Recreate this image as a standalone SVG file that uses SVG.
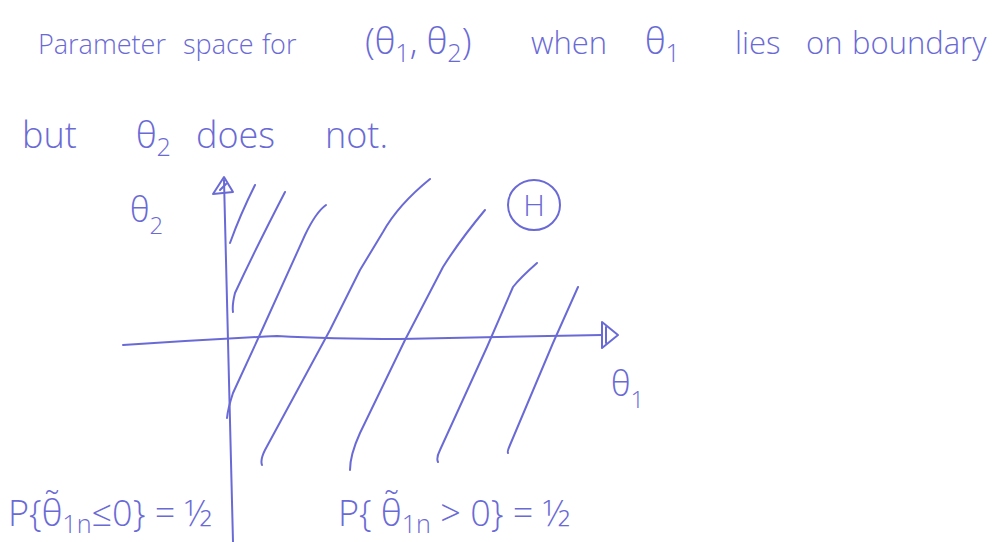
<svg xmlns="http://www.w3.org/2000/svg" width="997" height="542" viewBox="0 0 997 542">
<style>
.ink{fill:none;stroke:#6a6ad6;stroke-width:2;stroke-linecap:round;stroke-linejoin:round}
.t{fill:#6a6ad6;font-family:"Open Sans","Liberation Sans",sans-serif;font-weight:300}
.h0{font-size:27px}
.h{font-size:31px}
.h2{font-size:36px}
.sub{font-size:0.7em}
</style>
<rect width="997" height="542" fill="#ffffff"/>
<g id="title">
<text class="t h0" x="38" y="54">Parameter</text>
<text class="t h0" x="183" y="54">space</text>
<text class="t h0" x="262" y="54">for</text>
<text class="t h2" x="365" y="54">(θ<tspan class="sub" dy="8">1</tspan><tspan dy="-8">, θ</tspan><tspan class="sub" dy="8">2</tspan><tspan dy="-8">)</tspan></text>
<text class="t h" x="531" y="54">when</text>
<text class="t h2" x="645" y="54">θ<tspan class="sub" dy="8">1</tspan></text>
<text class="t h" x="735" y="54">lies</text>
<text class="t h" x="806" y="54">on</text>
<text class="t h" x="852" y="54">boundary</text>
<text class="t h2" x="22" y="148">but</text>
<text class="t h2" x="136" y="148">θ<tspan class="sub" dy="8">2</tspan></text>
<text class="t h2" x="196" y="148">does</text>
<text class="t h2" x="325" y="148">not.</text>
</g>
<g id="axis-theta2">
<path class="ink" d="M224,180 Q228,330 233,542"/>
<path class="ink" d="M213,194 L224,177 L233,192 Z M220,190 L226,184"/>
<text class="t" font-size="34" x="130" y="222">θ<tspan class="sub" dy="12">2</tspan></text>
</g>
<g id="axis-theta1">
<path class="ink" d="M123,345 Q200,340 277,336 Q330,339 400,339 Q500,337 602,335"/>
<path class="ink" d="M602,322 L618,335 L602,348 Z M606,327 L606,343"/>
<text class="t" font-size="34" x="611" y="396">θ<tspan class="sub" dy="12">1</tspan></text>
</g>
<g id="H">
<ellipse class="ink" cx="534" cy="205" rx="26" ry="25"/>
<text class="t" font-size="30" x="534" y="216" text-anchor="middle">H</text>
</g>
<g id="hatching">
<path class="ink" d="M255,185 Q240,215 230,243"/>
<path class="ink" d="M285,192 Q255,250 235,293 Q232,305 233,312"/>
<path class="ink" d="M326,205 Q316,212 305,235 L262,330 L233,393 Q228,408 227,418"/>
<path class="ink" d="M430,179 Q398,205 383,232 L360,270 L330,330 L265,450 Q260,460 262,465"/>
<path class="ink" d="M485,210 Q460,240 443,267 L405,340 L360,433 Q350,455 350,470"/>
<path class="ink" d="M537,263 Q520,278 513,287 L487,347 L440,450 Q436,458 438,462"/>
<path class="ink" d="M578,287 L553,343 L510,445 Q507,452 508,453"/>
</g>
<g id="prob-left">
<text class="t" font-size="36" x="8" y="526">P{θ̃<tspan class="sub" dy="7">1n</tspan><tspan dy="-7">≤0} = ½</tspan></text>
</g>
<g id="prob-right">
<text class="t" font-size="36" x="338" y="526">P{ θ̃<tspan class="sub" dy="7">1n</tspan><tspan dy="-7"> &gt; 0} = ½</tspan></text>
</g>
</svg>
